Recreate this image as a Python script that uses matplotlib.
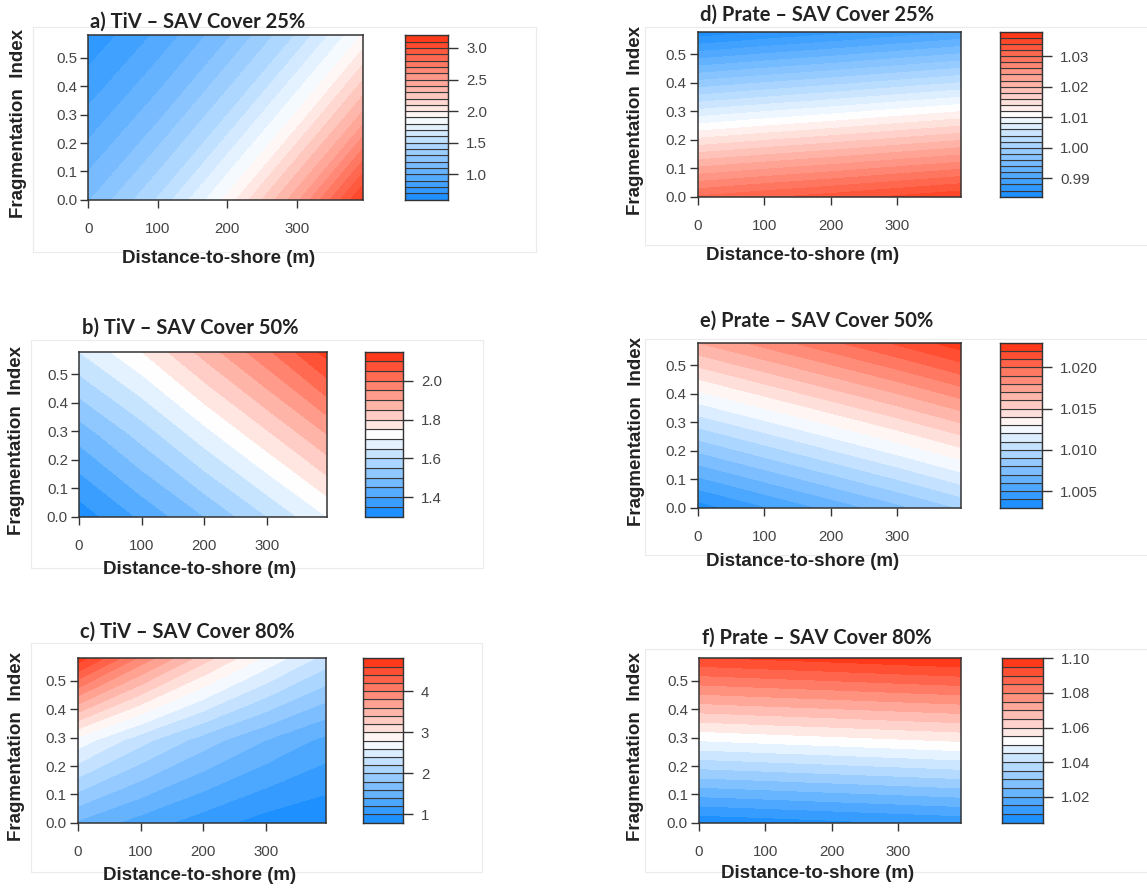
import numpy as np
import matplotlib
matplotlib.use("Agg")
import matplotlib.pyplot as plt
from matplotlib.colors import LinearSegmentedColormap
from matplotlib.patches import Rectangle

W, H = 1147, 888

# ---- data ----
dist_grid = [0, 100, 200, 300, 395]   # Distance-to-shore (m)
frag_grid = [0.0, 0.29, 0.58]         # Fragmentation Index

# rows: frag 0.0, 0.29, 0.58 ; cols: dist 0, 100, 200, 300, 395
tiv_25 = [[1.19, 1.51, 1.93, 2.47, 3.12],
          [0.93, 1.18, 1.51, 1.93, 2.44],
          [0.72, 0.92, 1.18, 1.51, 1.91]]
tiv_50 = [[1.32, 1.41, 1.50, 1.60, 1.70],
          [1.47, 1.57, 1.68, 1.79, 1.90],
          [1.65, 1.75, 1.87, 1.99, 2.12]]
tiv_80 = [[1.57, 1.31, 1.09, 0.91, 0.82],
          [2.72, 2.27, 1.90, 1.59, 1.34],
          [4.72, 3.94, 3.29, 2.75, 2.32]]
prate_25 = [[1.0302, 1.0316, 1.0329, 1.0343, 1.0356],
            [1.0073, 1.0087, 1.0100, 1.0114, 1.0127],
            [0.9845, 0.9859, 0.9872, 0.9886, 0.9899]]
prate_50 = [[1.0035, 1.0049, 1.0063, 1.0077, 1.0091],
            [1.0102, 1.0116, 1.0130, 1.0144, 1.0158],
            [1.0170, 1.0184, 1.0198, 1.0212, 1.0226]]
prate_80 = [[1.0060, 1.0073, 1.0087, 1.0100, 1.0113],
            [1.0501, 1.0515, 1.0528, 1.0542, 1.0555],
            [1.0943, 1.0957, 1.0970, 1.0984, 1.0996]]

titles = ["a) TiV \u2013 SAV Cover 25%", "b) TiV \u2013 SAV Cover 50%",
          "c) TiV \u2013 SAV Cover 80%", "d) Prate \u2013 SAV Cover 25%",
          "e) Prate \u2013 SAV Cover 50%", "f) Prate \u2013 SAV Cover 80%"]

level_specs = [(0.6, 3.2, 0.1), (1.30, 2.15, 0.05), (0.8, 4.8, 0.2),
               (0.984, 1.038, 0.002), (1.003, 1.023, 0.001), (1.005, 1.100, 0.005)]

cbar_ticks = [[1.0, 1.5, 2.0, 2.5, 3.0], [1.4, 1.6, 1.8, 2.0], [1, 2, 3, 4],
              [0.99, 1.00, 1.01, 1.02, 1.03], [1.005, 1.010, 1.015, 1.020],
              [1.02, 1.04, 1.06, 1.08, 1.10]]
cbar_fmt = ["{:.1f}", "{:.1f}", "{:.0f}", "{:.2f}", "{:.3f}", "{:.2f}"]

x_ticks = [0, 100, 200, 300]
y_ticks = [0.0, 0.1, 0.2, 0.3, 0.4, 0.5]

surfaces = [tiv_25, tiv_50, tiv_80, prate_25, prate_50, prate_80]

# ---- layout (pixel boxes) ----
layout = [
    dict(box=(88.3, 362.7, 35.3, 199.7), cb=(405, 448, 35.3, 199.7), title=(90, 21.7),
         xlab=(219, 258.3), ylab=18.3, frame=(33, 536, 26.7, 251.7)),
    dict(box=(79, 326.7, 351.7, 516.5), cb=(365, 403.3, 351.7, 516.5), title=(82, 328),
         xlab=(200, 569.3), ylab=16.7, frame=(30.7, 483, 340, 568)),
    dict(box=(77.7, 326, 658.3, 822.7), cb=(363.3, 402.7, 658.3, 822.7), title=(80, 631.7),
         xlab=(200, 875), ylab=16.7, frame=(30.7, 481.7, 643, 871.7)),
    dict(box=(697.7, 960.7, 31.7, 196.7), cb=(1000, 1042.3, 31.7, 196.7), title=(700, 15),
         xlab=(803, 255), ylab=635, frame=(645, 1160, 26.7, 245)),
    dict(box=(697.7, 960.7, 342.7, 507.7), cb=(1000, 1042.3, 342.7, 507.7), title=(700, 320.7),
         xlab=(803, 561), ylab=636.7, frame=(645, 1160, 339, 555)),
    dict(box=(699, 961, 658.3, 822.7), cb=(1001.7, 1043.3, 658.3, 822.7), title=(701.7, 637.3),
         xlab=(818, 873.3), ylab=635, frame=(645, 1160, 649, 871.7)),
]

cmap = LinearSegmentedColormap.from_list("bwr_r", ["#1E90FF", "#FFFFFF", "#FF3A1A"])

fig = plt.figure(figsize=(W / 100, H / 100), dpi=100)
fig.patch.set_facecolor("white")


def px_axes(x0, x1, y0, y1):
    return fig.add_axes([x0 / W, 1 - y1 / H, (x1 - x0) / W, (y1 - y0) / H])


tick_font = dict(family="Liberation Sans", size=10.8, color="#444444")
lab_font = dict(family="Liberation Sans", size=13.5, weight="bold", color="#222222")
title_font = dict(family="Lato", size=14.5, weight="bold", color="#222222")

for i in range(6):
    L = layout[i]
    lo, hi, st = level_specs[i]
    n = int(round((hi - lo) / st))
    levels = lo + st * np.arange(n + 1)
    colors = [cmap(k / (n - 1)) for k in range(n)]

    # faint frame of the exported panel
    fx0, fx1, fy0, fy1 = L["frame"]
    fig.patches.append(Rectangle((fx0 / W, 1 - fy1 / H), (fx1 - fx0) / W, (fy1 - fy0) / H,
                                 transform=fig.transFigure, fill=False,
                                 edgecolor="#EBEBEB", linewidth=0.8, zorder=0))

    x0, x1, y0, y1 = L["box"]
    ax = px_axes(x0, x1, y0, y1)
    Z = np.array(surfaces[i])
    ax.contourf(dist_grid, frag_grid, Z, levels=levels, colors=colors, antialiased=False)
    ax.set_xlim(dist_grid[0], dist_grid[-1])
    ax.set_ylim(frag_grid[0], frag_grid[-1])
    ax.set_xticks(x_ticks)
    ax.set_xticklabels([str(v) for v in x_ticks], **tick_font)
    ax.set_yticks(y_ticks)
    ax.set_yticklabels(["{:.1f}".format(v) for v in y_ticks], **tick_font)
    ax.tick_params(direction="out", length=6, width=1.0, color="#333333")
    ax.tick_params(axis="x", pad=10)
    ax.tick_params(axis="y", pad=2)
    for s in ax.spines.values():
        s.set_color("#333333")
        s.set_linewidth(1.1)

    # colorbar
    cx0, cx1, cy0, cy1 = L["cb"]
    cax = px_axes(cx0, cx1, cy0, cy1)
    cax.bar(0.5, np.diff(levels), bottom=levels[:-1], width=1.0, color=colors,
            edgecolor="#3a3a3a", linewidth=0.8)
    cax.set_xlim(0, 1)
    cax.set_ylim(levels[0], levels[-1])
    cax.set_xticks([])
    cax.yaxis.tick_right()
    cax.set_yticks(cbar_ticks[i])
    cax.set_yticklabels([cbar_fmt[i].format(v) for v in cbar_ticks[i]], **tick_font)
    cax.tick_params(axis="y", direction="out", length=7, width=1.0, color="#333333", pad=6)
    for s in cax.spines.values():
        s.set_color("#333333")
        s.set_linewidth(1.0)

    tx, ty = L["title"]
    fig.text(tx / W, 1 - ty / H, titles[i], ha="left", va="center", **title_font)
    lx, ly = L["xlab"]
    fig.text(lx / W, 1 - ly / H, "Distance-to-shore (m)", ha="center", va="center", **lab_font)
    fig.text(L["ylab"] / W, 1 - ((y0 + y1) / 2 + 6) / H, "Fragmentation  Index",
             ha="center", va="center", rotation=90, **lab_font)

fig.savefig("out.png", dpi=100)
